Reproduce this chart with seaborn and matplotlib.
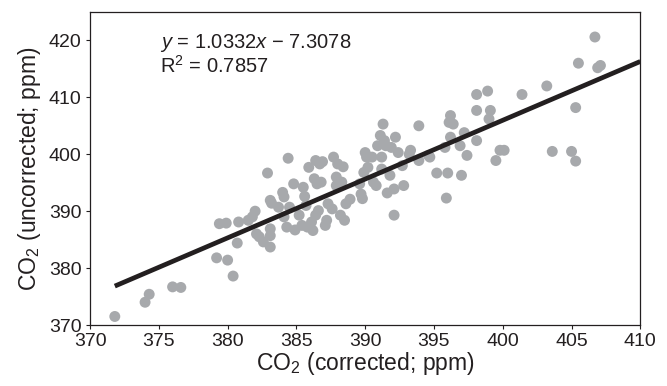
import matplotlib
matplotlib.use("Agg")
import matplotlib.pyplot as plt
import seaborn as sns
import numpy as np
import pandas as pd

# ---- data ----
co2_corrected = [
    371.8, 374.0, 374.3, 376.0, 376.6, 379.2, 380.0, 380.4, 379.4, 379.9,
    380.7, 380.8, 381.5, 381.8, 382.0, 382.1, 382.3, 382.6, 382.9, 383.1,
    383.1, 383.1, 383.1, 383.2, 383.7, 384.0, 384.1, 384.3, 384.4, 384.1,
    384.5, 384.8, 384.9, 385.2, 385.4, 385.5, 385.6, 385.7, 385.8, 385.9,
    386.1, 386.2, 386.3, 386.4, 386.4, 386.5, 386.6, 386.7, 386.8, 386.9,
    387.1, 387.2, 387.3, 387.6, 387.7, 387.9, 387.9, 388.0, 388.2, 388.3,
    388.4, 388.5, 388.6, 388.9, 389.6, 389.7, 389.8, 389.9, 390.0, 390.2,
    390.1, 390.5, 390.6, 390.8, 390.9, 391.1, 391.2, 391.2, 391.3, 391.4,
    391.5, 391.6, 391.8, 391.9, 392.1, 392.1, 392.2, 392.4, 392.7, 392.8,
    393.2, 393.3, 393.9, 393.9, 394.6, 394.7, 395.2, 395.8, 395.9, 396.0,
    396.1, 396.2, 396.2, 396.4, 396.9, 397.0, 397.2, 397.4, 398.1, 398.1,
    398.1, 398.9, 399.1, 399.0, 399.5, 399.8, 400.1, 401.4, 403.2, 403.6,
    405.0, 405.3, 405.3, 405.5, 406.7, 406.9, 407.1,
]
co2_uncorrected = [
    371.5, 374.0, 375.4, 376.7, 376.6, 381.8, 381.4, 378.6, 387.8, 387.9,
    384.4, 388.1, 388.4, 389.0, 390.0, 386.0, 385.5, 384.6, 396.7, 383.7,
    385.7, 386.9, 391.9, 391.4, 390.7, 393.3, 392.5, 387.2, 399.3, 389.0,
    390.7, 394.8, 386.7, 389.3, 387.5, 394.2, 392.6, 391.0, 387.2, 397.7,
    388.1, 386.6, 395.7, 398.9, 389.3, 394.8, 390.1, 398.3, 395.1, 398.7,
    387.5, 388.4, 391.3, 390.4, 399.5, 394.5, 396.0, 398.3, 389.3, 395.1,
    397.8, 388.4, 391.3, 392.1, 394.8, 393.0, 392.2, 396.8, 400.3, 397.7,
    399.5, 399.5, 395.1, 394.5, 401.5, 403.3, 397.4, 399.5, 405.3, 402.4,
    401.5, 393.2, 396.3, 401.2, 393.9, 389.3, 403.0, 400.3, 398.0, 394.5,
    400.0, 400.7, 405.0, 398.9, 399.8, 399.5, 396.7, 401.2, 392.3, 396.7,
    405.6, 406.8, 403.0, 405.3, 401.5, 396.3, 403.8, 399.8, 410.5, 407.7,
    402.4, 411.1, 407.7, 406.2, 398.9, 400.7, 400.7, 410.5, 412.0, 400.5,
    400.5, 408.2, 398.8, 416.0, 420.6, 415.2, 415.6,
]
slope = 1.0332
intercept = -7.3078
r_squared = 0.7857
x_ticks = [370, 375, 380, 385, 390, 395, 400, 405, 410]
y_ticks = [370, 380, 390, 400, 410, 420]

df = pd.DataFrame({"corrected": co2_corrected, "uncorrected": co2_uncorrected})
line_x = np.array([min(co2_corrected), 410.0])
line_df = pd.DataFrame({"x": line_x, "y": slope * line_x + intercept})

# ---- style ----
sns.set_theme(style="white")
base = "Liberation Sans"
plt.rcParams["font.family"] = [base, "DejaVu Sans"]
plt.rcParams["mathtext.fontset"] = "custom"
plt.rcParams["mathtext.rm"] = base
plt.rcParams["mathtext.it"] = base + ":italic"

ink = "#231f20"
fig = plt.figure(figsize=(6.67, 3.86), dpi=100)
ax = fig.add_axes([0.135, 0.158, 0.825, 0.811])

sns.scatterplot(data=df, x="corrected", y="uncorrected", ax=ax,
                color="#a7a9ac", s=62, edgecolor="none", linewidth=0, zorder=2)
sns.lineplot(data=line_df, x="x", y="y", ax=ax, color=ink,
             linewidth=3.4, zorder=3, solid_capstyle="butt")

ax.set_xlim(370, 410)
ax.set_ylim(370, 425)
ax.set_xticks(x_ticks)
ax.set_yticks(y_ticks)
ax.tick_params(axis="both", which="major", direction="out", length=3, width=0.8,
               colors=ink, labelsize=14, bottom=True, left=True)
ax.tick_params(axis="x", pad=3)
ax.tick_params(axis="y", pad=3)
for s in ax.spines.values():
    s.set_visible(True)
    s.set_color(ink)
    s.set_linewidth(0.9)

ax.set_xlabel("CO$_2$ (corrected; ppm)", fontsize=16.5, color=ink, labelpad=0)
ax.set_ylabel("CO$_2$ (uncorrected; ppm)", fontsize=16.5, color=ink, labelpad=4)

ax.text(375.1, 419.6, "$\\it{y}$ = %.4f$\\it{x}$ \u2212 %.4f" % (slope, -intercept),
        fontsize=14.5, color=ink, va="center", ha="left")
ax.text(375.1, 415.6, "R$^2$ = %.4f" % r_squared,
        fontsize=14.5, color=ink, va="center", ha="left")

fig.savefig("out.png", dpi=100)
